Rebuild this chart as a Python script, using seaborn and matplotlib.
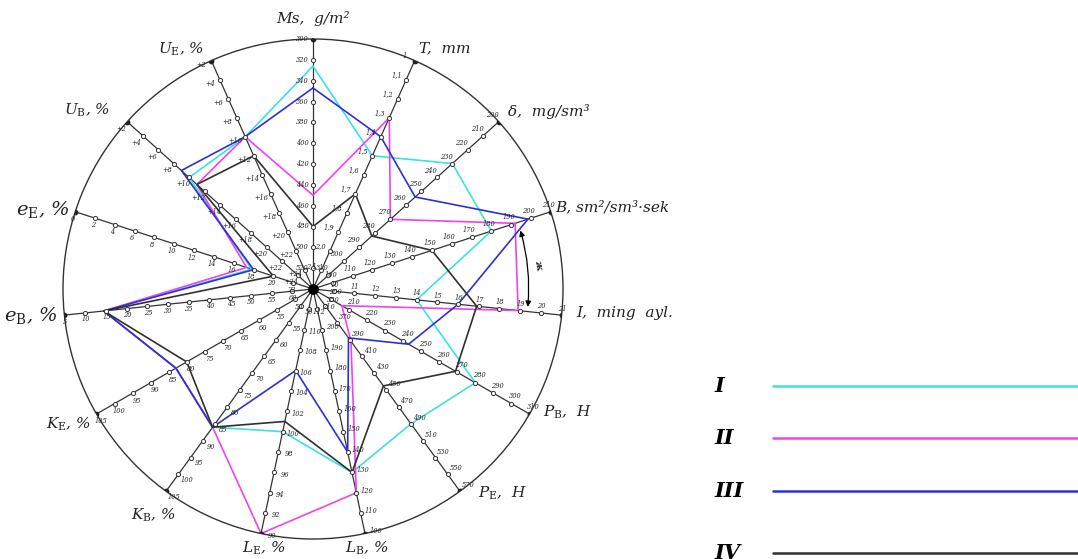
import numpy as np
import pandas as pd
import matplotlib.pyplot as plt
import seaborn as sns

# Axes of the diagram, clockwise from the top
axis_names = ['Ms,  g/m²', 'T,  mm', 'δ,  mg/sm³', 'B, sm²/sm³·sek', 'I,  ming  ayl.',
              r'$P_{\rm B}$,  H', r'$P_{\rm E}$,  H', r'$L_{\rm B}$, %', r'$L_{\rm E}$, %',
              r'$K_{\rm B}$, %', r'$K_{\rm E}$, %', r'$e_{\rm B}$, %', r'$e_{\rm E}$, %',
              r'$U_{\rm B}$, %', r'$U_{\rm E}$, %']
# scale of every axis: value on the outer circle, value in the centre
edge_values = [300, 1.0, 200, 210, 21, 310, 570, 100, 90, 105, 105, 5, 0, 2, 2]
centre_values = [540, 2.2, 320, 90, 9, 190, 330, 220, 114, 45, 45, 65, 24, 26, 26]
tick_fmt = ['{:.0f}', '{:.1f}', '{:.0f}', '{:.0f}', '{:.0f}', '{:.0f}', '{:.0f}', '{:.0f}',
            '{:.0f}', '{:.0f}', '{:.0f}', '{:.0f}', '{:.0f}', '+{:.0f}', '+{:.0f}']

# Series values (same axis order)
series_names = ['I', 'II', 'III', 'IV']
series_colors = ['#3ee0e0', '#ee44ee', '#3030d0', '#303030']
ser_I = [326, 1.5, 230, 180, 14, 280, 490, 130, 100, 86, 83, 14.5, 17.8, 10, 10]
ser_II = [450, 1.3, 270, 192, 18.9, 206, 392, 120, 90, 86, 83, 14.5, 17.3, 11, 10]
ser_III = [347, 1.4, 254, 198.5, 16, 243, 388, 140, 106, 86, 83, 14.5, 18, 9, 10]
ser_IV = [480, 1.7, 282, 150, 16.9, 269, 445, 130, 101, 86, 80, 14.5, 20, 11, 12]

# label offsets (pixels) of the axis names from the axis end
name_offsets = [(0, 21, 'center'), (4, 12, 'left'), (9, 10, 'left'), (4, 4, 'left'),
                (15, 2, 'left'), (13, 2, 'left'), (18, -2, 'left'), (2, -15, 'center'),
                (3, -15, 'center'), (-13, -24, 'center'), (-6, -10, 'right'),
                (-7, 0, 'right'), (-6, 2, 'right'), (-17, 11, 'right'), (-7, 11, 'right')]

sns.set_style('white')
plt.rcParams['font.family'] = ['DejaVu Serif']
plt.rcParams['mathtext.fontset'] = 'dejavuserif'

n = len(axis_names)
theta = np.radians(np.arange(n) * 360 / n)
edge = np.array(edge_values, dtype=float)
centre = np.array(centre_values, dtype=float)


def to_r(vals):
    return (np.array(vals, dtype=float) - centre) / (edge - centre)


fig = plt.figure(figsize=(10.78, 5.59), dpi=100)
ax = fig.add_axes([63 / 1078, 20 / 559, 500 / 1078, 500 / 559], projection='polar')
ax.set_theta_zero_location('N')
ax.set_theta_direction(-1)
ax.set_ylim(0, 1)
ax.set_xticks([])
ax.set_yticks([])
ax.grid(False)
ax.spines['polar'].set_color('#333333')
ax.spines['polar'].set_linewidth(1.0)

# spokes, ticks and tick labels
for i in range(n):
    t = theta[i]
    ax.plot([t, t], [0, 1], color='#333333', lw=0.9, zorder=2)
    step = (centre[i] - edge[i]) / 12
    tick_vals = edge[i] + step * np.arange(12)
    tick_r = (tick_vals - centre[i]) / (edge[i] - centre[i])
    ax.scatter(np.full(11, t), tick_r[1:], s=9, facecolor='white', edgecolor='#333333',
               linewidth=0.7, zorder=4)
    ax.scatter([t], [1.0], s=10, color='#222222', zorder=4)
    px, py = -np.cos(t), np.sin(t)
    off = 6 + 5 * abs(px)
    for v, r in zip(tick_vals, tick_r):
        txt = tick_fmt[i].format(v).replace('.', ',')
        if i == 1 and v == 1.0:
            txt = '1'
        ax.annotate(txt, (t, r), xytext=(px * off, py * off), textcoords='offset pixels',
                    ha='center', va='center', fontsize=4.8, style='italic', color='#222222',
                    zorder=5)
    dx, dy, ha = name_offsets[i]
    size = 14 if i in (11, 12) else 11
    ax.annotate(axis_names[i], (t, 1.0), xytext=(dx, dy), textcoords='offset pixels',
                ha=ha, va='center', fontsize=size, style='italic', color='#222222',
                annotation_clip=False)

ax.scatter([0], [0], s=45, color='black', zorder=5)

# the four series
for name, vals, col in zip(series_names, [ser_I, ser_II, ser_III, ser_IV], series_colors):
    r = to_r(vals)
    df = pd.DataFrame({'theta': np.append(theta, theta[0]), 'r': np.append(r, r[0])})
    sns.lineplot(data=df, x='theta', y='r', ax=ax, sort=False, estimator=None,
                 color=col, lw=1.2, zorder=3)
ax.set_xlabel('')
ax.set_ylabel('')

# arc arrow between the B and I axes
ax.annotate('', xy=(np.radians(95.5), 0.862), xytext=(np.radians(73.5), 0.862),
            arrowprops=dict(arrowstyle='<|-|>', color='black', lw=0.9,
                            connectionstyle='arc3,rad=-0.1', mutation_scale=8))
ax.text(np.radians(84), 0.905, 'ж', rotation=-80, fontsize=7, fontweight='bold',
        ha='center', va='center')

# legend on the right
leg = fig.add_axes([0, 0, 1, 1], facecolor='none')
leg.set_xlim(0, 1078)
leg.set_ylim(559, 0)
leg.axis('off')
leg_rows = [386, 438, 491, 553]
for name, col, y in zip(series_names, series_colors, leg_rows):
    leg.plot([773, 1080], [y, y], color=col, lw=1.8)
    leg.text(714, y, name, fontsize=15, style='italic', fontweight='bold',
             ha='left', va='center', color='black')

fig.savefig('out.png', dpi=100)
